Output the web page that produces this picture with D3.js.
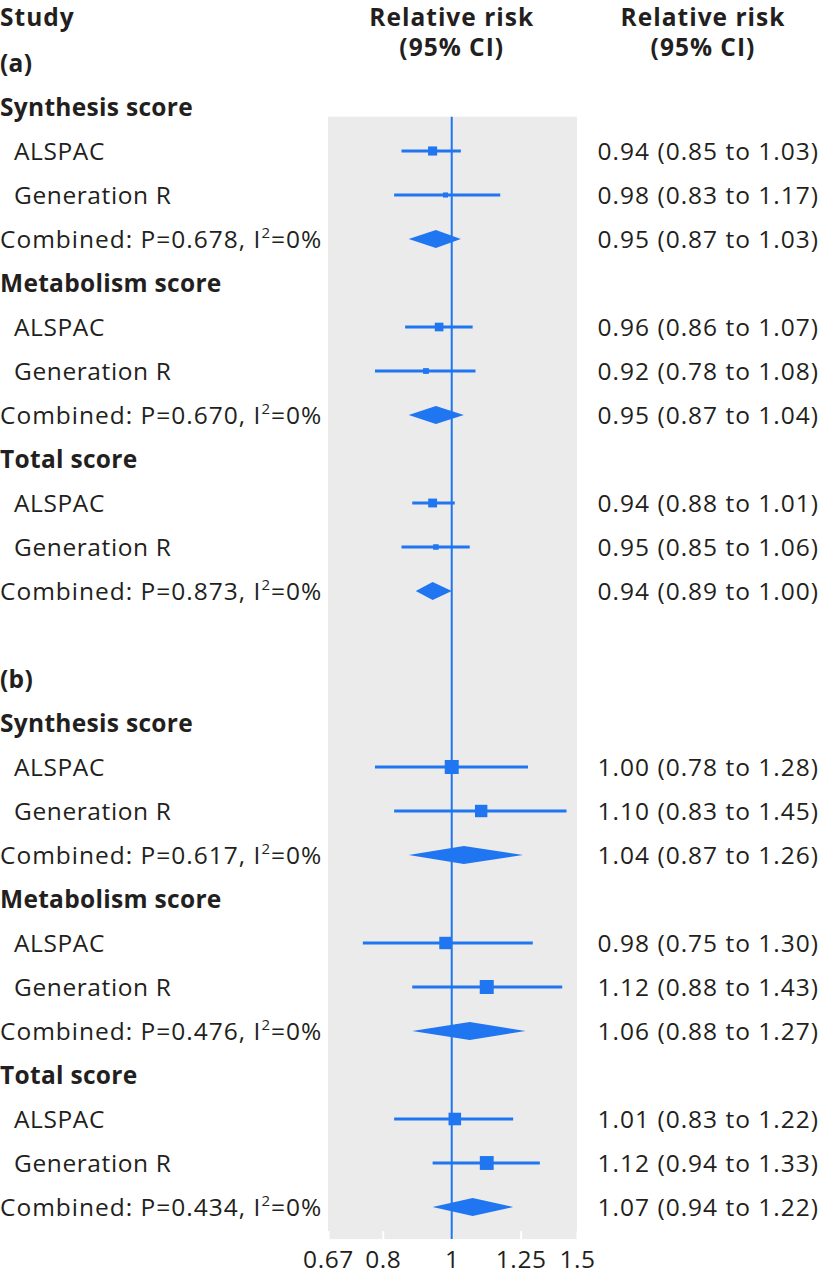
<!DOCTYPE html>
<html><head><meta charset="utf-8">
<script src="https://cdn.jsdelivr.net/npm/d3@7"></script>
<style>
html,body{margin:0;padding:0;background:#fff;}
svg{display:block;}
text{font-family:"Open Sans","Noto Sans",sans-serif;fill:#231f20;letter-spacing:1px;}
</style></head>
<body>
<svg id="chart" width="824" height="1276"></svg>
<script>
// ---- data ----
const sections = ["(a)", "(b)"];
const scores = ["Synthesis score", "Metabolism score", "Total score"];
const studies = ["ALSPAC", "Generation R"];
// per section: for each score -> ALSPAC, Generation R, Combined
const rrA   = [0.94, 0.98, 0.95, 0.96, 0.92, 0.95, 0.94, 0.95, 0.94];
const lowA  = [0.85, 0.83, 0.87, 0.86, 0.78, 0.87, 0.88, 0.85, 0.89];
const highA = [1.03, 1.17, 1.03, 1.07, 1.08, 1.04, 1.01, 1.06, 1.00];
const rrB   = [1.00, 1.10, 1.04, 0.98, 1.12, 1.06, 1.01, 1.12, 1.07];
const lowB  = [0.78, 0.83, 0.87, 0.75, 0.88, 0.88, 0.83, 0.94, 0.94];
const highB = [1.28, 1.45, 1.26, 1.30, 1.43, 1.27, 1.22, 1.33, 1.22];
// study weights (%) for ALSPAC, Generation R per score
const weightsA = [76, 24, 69, 31, 72, 28];
const weightsB = [56, 44, 44, 56, 45, 55];
const pHet = ["0.678", "0.670", "0.873", "0.617", "0.476", "0.434"];
const i2 = ["0%", "0%", "0%", "0%", "0%", "0%"];
const tickValues = [0.67, 0.8, 1, 1.25, 1.5];
const tickLabels = ["0.67", "0.8", "1", "1.25", "1.5"];

// ---- build rows ----
const secData = [
  {rr: rrA, low: lowA, high: highA, w: weightsA},
  {rr: rrB, low: lowB, high: highB, w: weightsB}
];
const rows = [];
let r = 1;
secData.forEach((sd, si) => {
  rows.push({type: "section", label: sections[si], row: r++});
  scores.forEach((sc, ci) => {
    rows.push({type: "heading", label: sc, row: r++});
    studies.forEach((st, k) => {
      const idx = ci * 3 + k;
      rows.push({type: "study", label: st, row: r++, sec: si,
        rr: sd.rr[idx], low: sd.low[idx], high: sd.high[idx], w: sd.w[ci * 2 + k]});
    });
    const idx = ci * 3 + 2;
    rows.push({type: "combined", row: r++, sec: si, p: pHet[si * 3 + ci], i2: i2[si * 3 + ci],
      rr: sd.rr[idx], low: sd.low[idx], high: sd.high[idx]});
  });
  r++; // blank row between sections
});

const svg = d3.select("#chart");
const blue = "#1f76f0";
const fs = 24.5;

const y = d3.scaleLinear().domain([0, 27]).range([19, 1207]);
const x = d3.scaleLog().domain([0.67, 1.5]).range([328, 577]);
const sizeScale = [d3.scaleSqrt().domain([0, 100]).range([0, 10.4]),
                   d3.scaleSqrt().domain([0, 100]).range([0, 18.7])];

// panel
const panelTop = y(2.22), panelBottom = y(27.73);
svg.append("rect").attr("x", x(0.67)).attr("y", panelTop)
  .attr("width", x(1.5) - x(0.67)).attr("height", panelBottom - panelTop)
  .attr("fill", "#ebebeb");

// axis
const axis = d3.axisBottom(x).tickValues(tickValues)
  .tickFormat((d, i) => tickLabels[i]).tickSizeInner(-8).tickSizeOuter(0).tickPadding(11);
const ax = svg.append("g").attr("transform", `translate(0,${panelBottom})`).call(axis);
ax.select(".domain").remove();
ax.selectAll(".tick line").attr("stroke", "#fff").attr("stroke-width", 2);
ax.selectAll(".tick text").attr("font-size", fs).attr("fill", "#231f20")
  .style("font-family", "'Open Sans', 'Noto Sans', sans-serif")
  .style("letter-spacing", "0.6px");

// reference line at 1
svg.append("line").attr("x1", x(1)).attr("x2", x(1))
  .attr("y1", panelTop).attr("y2", panelBottom)
  .attr("stroke", blue).attr("stroke-width", 2);

// headers
const hdr = svg.append("g").attr("font-weight", "bold").attr("font-size", fs).style("letter-spacing", "0px");
hdr.append("text").attr("x", 0).attr("y", 26).text("Study");
hdr.append("text").attr("x", x(1)).attr("y", 26).attr("text-anchor", "middle").text("Relative risk");
hdr.append("text").attr("x", x(1)).attr("y", 56).attr("text-anchor", "middle").text("(95% CI)");
hdr.append("text").attr("x", 703).attr("y", 26).attr("text-anchor", "middle").text("Relative risk");
hdr.append("text").attr("x", 703).attr("y", 56).attr("text-anchor", "middle").text("(95% CI)");

// labels
const fmt = d3.format(".2f");
const lab = svg.append("g").attr("font-size", fs);
rows.forEach(d => {
  const yy = y(d.row) + 8.5;
  if (d.type === "section" || d.type === "heading") {
    lab.append("text").attr("x", 0).attr("y", yy).attr("font-weight", "bold")
      .style("letter-spacing", "0.3px").text(d.label);
  } else if (d.type === "study") {
    lab.append("text").attr("x", 14).attr("y", yy).style("letter-spacing", "0.6px").text(d.label);
  } else {
    const t = lab.append("text").attr("x", 0).attr("y", yy);
    t.append("tspan").text(`Combined: P=${d.p}, I`);
    t.append("tspan").attr("font-size", 15).attr("dy", -10).text("2");
    t.append("tspan").attr("dy", 10).text(`=${d.i2}`);
  }
  if (d.type === "study" || d.type === "combined") {
    lab.append("text").attr("x", 819).attr("y", yy).attr("text-anchor", "end")
      .text(`${fmt(d.rr)} (${fmt(d.low)} to ${fmt(d.high)})`);
  }
});

// marks
const marks = svg.append("g");
rows.filter(d => d.type === "study").forEach(d => {
  const yy = y(d.row);
  marks.append("line").attr("x1", x(d.low)).attr("x2", x(d.high))
    .attr("y1", yy).attr("y2", yy).attr("stroke", blue).attr("stroke-width", 3.2);
  const s = sizeScale[d.sec](d.w);
  marks.append("rect").attr("x", x(d.rr) - s / 2).attr("y", yy - s / 2)
    .attr("width", s).attr("height", s).attr("fill", blue);
});
rows.filter(d => d.type === "combined").forEach(d => {
  const yy = y(d.row), h = 9;
  marks.append("path").attr("d",
    `M${x(d.low)},${yy}L${x(d.rr)},${yy - h}L${x(d.high)},${yy}L${x(d.rr)},${yy + h}Z`)
    .attr("fill", blue);
});
</script>
</body></html>
